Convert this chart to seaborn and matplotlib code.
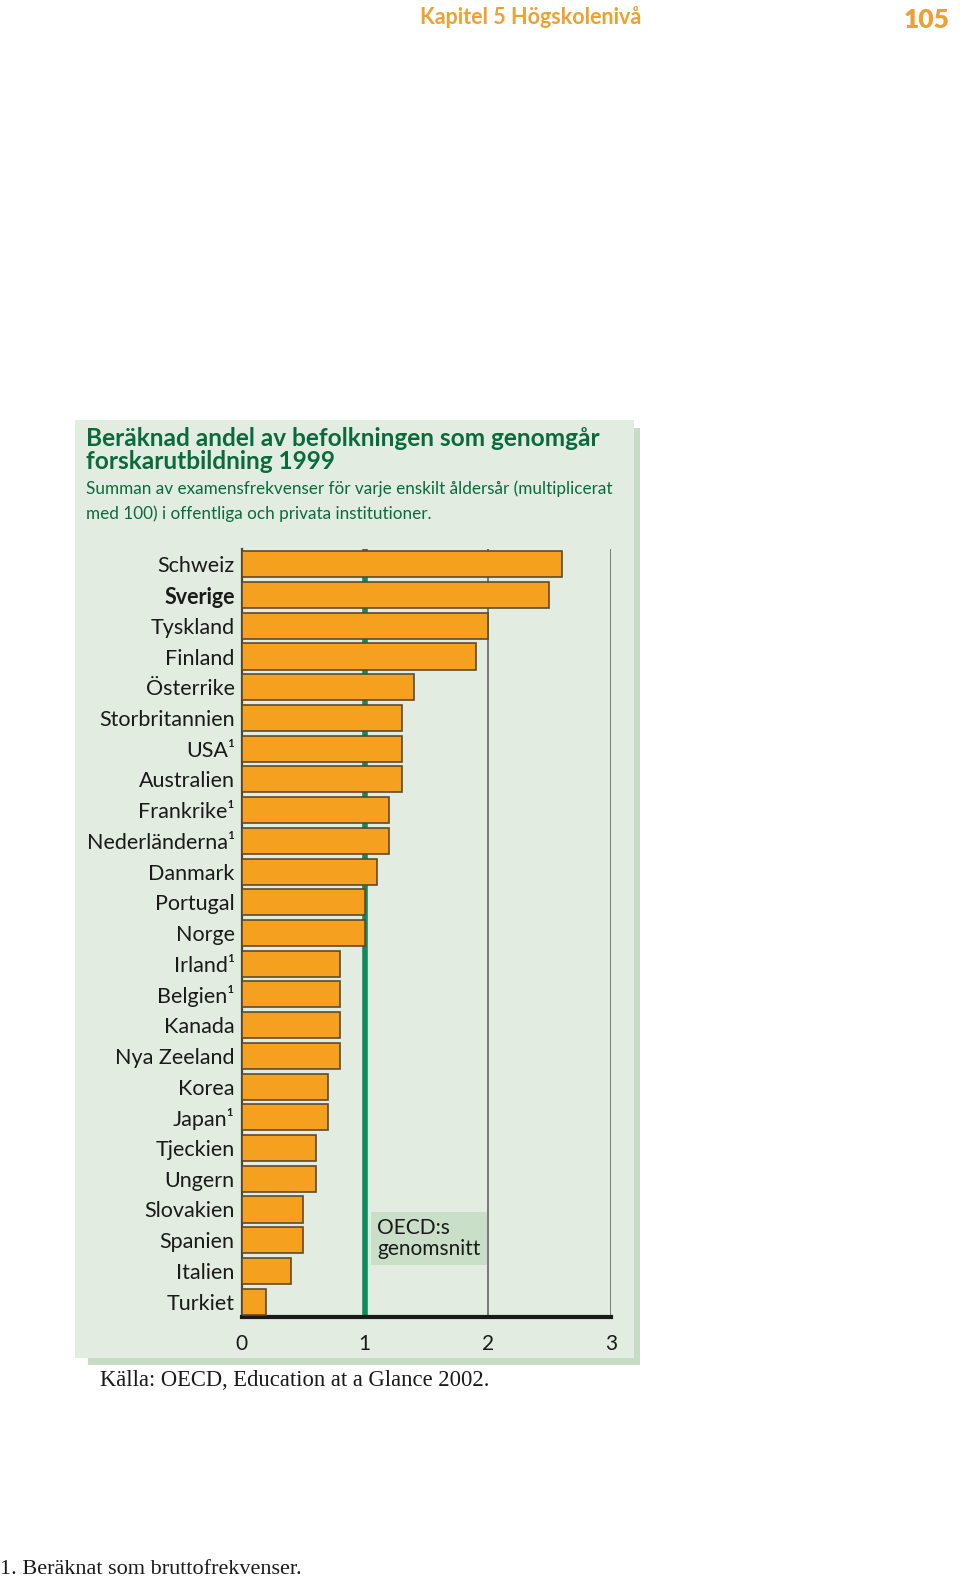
import matplotlib
matplotlib.use("Agg")
import matplotlib.pyplot as plt
from matplotlib.patches import Rectangle
import pandas as pd
import seaborn as sns

countries = ["Schweiz", "Sverige", "Tyskland", "Finland", "Österrike", "Storbritannien",
             "USA¹", "Australien", "Frankrike¹", "Nederländerna¹", "Danmark", "Portugal",
             "Norge", "Irland¹", "Belgien¹", "Kanada", "Nya Zeeland", "Korea", "Japan¹",
             "Tjeckien", "Ungern", "Slovakien", "Spanien", "Italien", "Turkiet"]
values = [2.6, 2.5, 2.0, 1.9, 1.4, 1.3, 1.3, 1.3, 1.2, 1.2, 1.1, 1.0, 1.0,
          0.8, 0.8, 0.8, 0.8, 0.7, 0.7, 0.6, 0.6, 0.5, 0.5, 0.4, 0.2]
oecd_mean = 1.0
xticks = [0, 1, 2, 3]

W, H = 960, 1578
panel_c = "#e2ece0"
shadow_c = "#c6dcc4"
green = "#0b6a3c"
orange = "#f6a020"

sns.set_style("white")
plt.rcParams["font.family"] = ["Lato", "DejaVu Sans"]


def fx(px):
    return px / W


def fy(py):
    return 1 - py / H


fig = plt.figure(figsize=(9.6, 15.78), dpi=100)
fig.patch.set_facecolor("white")

# panel with drop shadow
fig.patches.append(Rectangle((fx(88), fy(1365)), fx(640) - fx(88), fy(428) - fy(1365),
                             transform=fig.transFigure, facecolor=shadow_c, edgecolor="none", zorder=-2))
fig.patches.append(Rectangle((fx(75), fy(1358)), fx(634) - fx(75), fy(420) - fy(1358),
                             transform=fig.transFigure, facecolor=panel_c, edgecolor="none", zorder=-1))

ax = fig.add_axes([fx(241.7), fy(1317), fx(611) - fx(241.7), fy(549) - fy(1317)])
ax.patch.set_visible(False)

df = pd.DataFrame({"land": countries, "varde": values})
sns.barplot(data=df, x="varde", y="land", orient="h", color=orange, width=0.85,
            edgecolor="#5e4a2e", linewidth=1.2, saturation=1, ax=ax, zorder=3)

ax.axvline(oecd_mean, color="#0f8a5c", lw=4, zorder=1)
for g in xticks[2:]:
    ax.axvline(g, color="#707070", lw=1.3, zorder=1)

ax.set_xlim(0, 3)
ax.set_ylim(len(countries) - 0.5, -0.5)
ax.set_xticks(xticks)
ax.set_xticklabels([str(t) for t in xticks])
ax.set_xlabel("")
ax.set_ylabel("")

for s in ["top", "right"]:
    ax.spines[s].set_visible(False)
ax.spines["left"].set_color("#4e4636")
ax.spines["left"].set_linewidth(1.6)
ax.spines["bottom"].set_color("#1a1a1a")
ax.spines["bottom"].set_linewidth(3)

ax.tick_params(axis="x", direction="out", length=8, width=3, color="#1a1a1a",
               labelsize=15, labelcolor="#1a1a1a", pad=4)
ax.tick_params(axis="y", length=0, labelsize=15.5, labelcolor="#1a1a1a", pad=5)
for lbl in ax.get_yticklabels():
    if lbl.get_text() == "Sverige":
        lbl.set_fontweight("bold")

ax.text(1.1, 21.95, "OECD:s\ngenomsnitt", fontsize=15, color="#1a1a1a",
        va="center", ha="left", linespacing=1.05, zorder=4,
        bbox=dict(boxstyle="square,pad=0.3", facecolor="#c9dfc7", edgecolor="none"))

# titles
fig.text(fx(86), fy(446), "Beräknad andel av befolkningen som genomgår", fontsize=17.6,
         fontweight="bold", color=green, va="baseline", ha="left")
fig.text(fx(86), fy(469), "forskarutbildning 1999", fontsize=17.6,
         fontweight="bold", color=green, va="baseline", ha="left")
fig.text(fx(86), fy(494), "Summan av examensfrekvenser för varje enskilt åldersår (multiplicerat",
         fontsize=12.3, color=green, va="baseline", ha="left")
fig.text(fx(86), fy(519), "med 100) i offentliga och privata institutioner.",
         fontsize=12.3, color=green, va="baseline", ha="left")

# page header
fig.text(fx(420), fy(24), "Kapitel 5 Högskolenivå", fontsize=15.5, fontweight="bold",
         color="#eda132", va="baseline", ha="left")
fig.text(fx(950), fy(28), "105", fontsize=19, fontweight="heavy",
         color="#eda132", va="baseline", ha="right")

# source and footnote
fig.text(fx(100), fy(1386), "Källa: OECD, Education at a Glance 2002.", fontsize=16.3,
         family=["Liberation Serif", "DejaVu Serif"], color="#1a1a1a", va="baseline", ha="left")
fig.text(fx(0), fy(1574), "1. Beräknat som bruttofrekvenser.", fontsize=16,
         family=["Liberation Serif", "DejaVu Serif"], color="#1a1a1a", va="baseline", ha="left")

fig.savefig("out.png", dpi=100, facecolor="white")
